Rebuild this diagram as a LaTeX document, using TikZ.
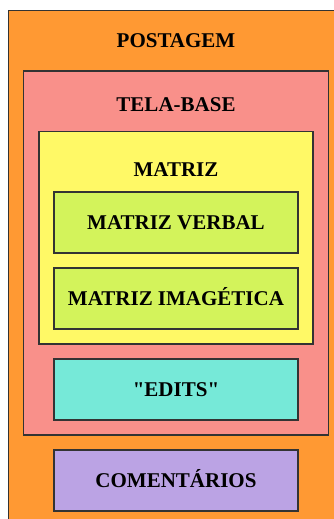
\documentclass[tikz,border=0pt]{standalone}
\usepackage{fontspec}
\setmainfont{Liberation Serif}[Ligatures=TeXOff]
\usetikzlibrary{positioning}
\definecolor{postcol}{HTML}{FF9933}
\definecolor{telacol}{HTML}{F9908A}
\definecolor{matrizcol}{HTML}{FFF966}
\definecolor{greencol}{HTML}{D3F35B}
\definecolor{editcol}{HTML}{76E9D8}
\definecolor{comcol}{HTML}{BBA3E4}
\tikzset{
  frame/.style={draw=black!80, line width=1.2pt, inner sep=0pt, outer sep=0pt},
  inbox/.style={frame, minimum width=244pt, minimum height=61pt, font=\fontsize{21}{24}\selectfont\bfseries, text height=13.9pt, text depth=0pt},
  title/.style={inner sep=0pt, font=\fontsize{21}{24}\selectfont\bfseries, text height=13.9pt, text depth=0pt}
}
\begin{document}
\begin{tikzpicture}[x=1pt, y=-1pt]
  \clip (0,0) rectangle (334,519);
  \fill[white] (0,0) rectangle (334,519);
  % containers
  \node[frame, fill=postcol, anchor=north west, minimum width=340pt, minimum height=520pt] (postagem) at (8.5,10.5) {};
  \node[frame, fill=telacol, minimum width=305pt, minimum height=364pt] (telabase) at (176,253) {};
  \node[frame, fill=matrizcol, minimum width=274pt, minimum height=212.5pt] (matriz) at (176,237.75) {};
  \node[title] (postagemtitle) at (176,40.5) {POSTAGEM};
  \node[title] (telatitle) at (176,105) {TELA-BASE};
  \node[title] (matriztitle) at (176,169.5) {MATRIZ};
  % inner boxes
  \node[inbox, fill=greencol] (verbal) at (176,222.5) {MATRIZ VERBAL};
  \node[inbox, fill=greencol, below=15pt of verbal] (imagetica) {MATRIZ IMAGÉTICA};
  \node[inbox, fill=editcol, below=15pt of matriz] (edits) {"EDITS"};
  \node[inbox, fill=comcol, below=15pt of telabase] (comentarios) {COMENTÁRIOS};
\end{tikzpicture}
\end{document}
